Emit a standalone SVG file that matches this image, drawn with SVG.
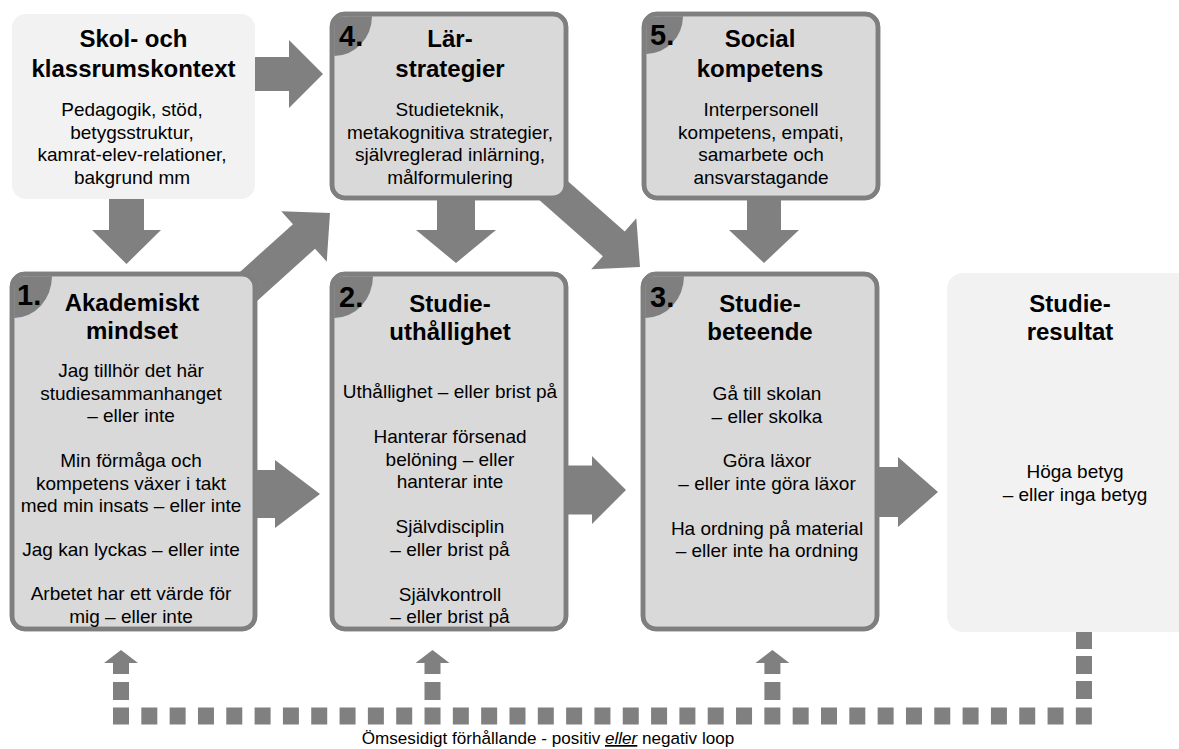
<svg xmlns="http://www.w3.org/2000/svg" width="1179" height="749" viewBox="0 0 1179 749">
<style>
.arrow{fill:#808080}
.box{fill:#d9d9d9;stroke:#7f7f7f;stroke-width:4.5}
.lbox{fill:#f2f2f2}
.tab{fill:#7f7f7f}
.dash{fill:none;stroke:#808080}
text{font-family:"Liberation Sans",Arial,sans-serif;fill:#000;text-anchor:middle}
.t{font-size:24px;font-weight:bold}
.b{font-size:19px}
.n{font-size:29px;font-weight:bold;text-anchor:start}
.loop{font-size:17.1px}
</style>
<rect width="1179" height="749" fill="#ffffff"/>
<g id="connectors">
<polygon class="arrow" points="255,57 289,57 289,40 323,74 289,108 289,91 255,91"/>
<polygon class="arrow" points="109,198 144,198 144,230 161,230 126.5,264 92,230 109,230"/>
<polygon class="arrow" transform="translate(330,213) rotate(-42)" points="0,0 -35,-34 -35,-16.5 -140,-16.5 -140,16.5 -35,16.5 -35,34"/>
<polygon class="arrow" points="437,198 475,198 475,230 496,230 456,263 416,230 437,230"/>
<polygon class="arrow" transform="translate(640,267) rotate(41.5)" points="0,0 -35,-34 -35,-16.5 -135,-16.5 -135,16.5 -35,16.5 -35,34"/>
<polygon class="arrow" points="747,198 781,198 781,230 799,230 764,263 729,230 747,230"/>
<polygon class="arrow" points="250,470 275,470 275,460 320,494 275,528 275,518 250,518"/>
<polygon class="arrow" points="562,465.5 592,465.5 592,456 626,490 592,524 592,514.5 562,514.5"/>
<polygon class="arrow" points="872,467 898,467 898,457 938,492 898,527 898,517 872,517"/>
<path class="dash" d="M113,716 H1092" stroke-width="17" stroke-dasharray="16 12.32"/>
<path class="dash" d="M1084,699 V631" stroke-width="16" stroke-dasharray="18 7"/>
<rect class="arrow" x="113" y="682" width="16" height="18"/>
<polygon class="arrow" points="113,674 129,674 129,663 138,663 121,650 104,663 113,663"/>
<rect class="arrow" x="424.5" y="682" width="16" height="18"/>
<polygon class="arrow" points="424.5,674 440.5,674 440.5,663 449.5,663 432.5,650 415.5,663 424.5,663"/>
<rect class="arrow" x="764.4" y="682" width="16" height="18"/>
<polygon class="arrow" points="764.4,674 780.4,674 780.4,663 789.4,663 772.4,650 755.4,663 764.4,663"/>
</g>
<g id="skol">
<rect class="lbox" x="12" y="14" width="243" height="185" rx="14"/>
<text class="t" x="133.5" y="47">Skol- och</text>
<text class="t" x="133.5" y="76.5">klassrumskontext</text>
<text class="b" x="132"><tspan x="132" y="116">Pedagogik, stöd,</tspan><tspan x="132" y="138.5">betygsstruktur,</tspan><tspan x="132" y="161">kamrat-elev-relationer,</tspan><tspan x="132" y="183.5">bakgrund mm</tspan></text>
</g>
<g id="larstrategier">
<rect class="box" x="332" y="14" width="234" height="184" rx="13"/>
<path class="tab" d="M334.2,56 V27 Q334.2,16.2 347,16.2 H372 A38 40 0 0 1 334.2,56 Z"/>
<rect x="332" y="14" width="234" height="184" rx="13" fill="none" stroke="#7f7f7f" stroke-width="4.5"/>
<text class="n" x="339" y="46">4.</text>
<text class="t" x="450" y="47">Lär-</text>
<text class="t" x="450" y="76.5">strategier</text>
<text class="b" x="450"><tspan x="450" y="116">Studieteknik,</tspan><tspan x="450" y="138.5">metakognitiva strategier,</tspan><tspan x="450" y="161">självreglerad inlärning,</tspan><tspan x="450" y="183.5">målformulering</tspan></text>
</g>
<g id="social">
<rect class="box" x="644" y="14" width="234" height="184" rx="13"/>
<path class="tab" d="M646.2,54 V27 Q646.2,16.2 659,16.2 H683 A37 38 0 0 1 646.2,54 Z"/>
<rect x="644" y="14" width="234" height="184" rx="13" fill="none" stroke="#7f7f7f" stroke-width="4.5"/>
<text class="n" x="650" y="45">5.</text>
<text class="t" x="760" y="47">Social</text>
<text class="t" x="760" y="76.5">kompetens</text>
<text class="b" x="761"><tspan x="761" y="116">Interpersonell</tspan><tspan x="761" y="138.5">kompetens, empati,</tspan><tspan x="761" y="161">samarbete och</tspan><tspan x="761" y="183.5">ansvarstagande</tspan></text>
</g>
<g id="mindset">
<rect class="box" x="12" y="274" width="243" height="355" rx="13"/>
<path class="tab" d="M14.2,318 V287 Q14.2,276.2 27,276.2 H52 A38 42 0 0 1 14.2,318 Z"/>
<rect x="12" y="274" width="243" height="355" rx="13" fill="none" stroke="#7f7f7f" stroke-width="4.5"/>
<text class="n" x="17" y="305">1.</text>
<text class="t" x="132" y="310.5">Akademiskt</text>
<text class="t" x="132" y="339">mindset</text>
<text class="b" x="131"><tspan x="131" y="377">Jag tillhör det här</tspan><tspan x="131" y="399.5">studiesammanhanget</tspan><tspan x="131" y="422">– eller inte</tspan><tspan x="131" y="467">Min förmåga och</tspan><tspan x="131" y="489.5">kompetens växer i takt</tspan><tspan x="131" y="512">med min insats – eller inte</tspan><tspan x="131" y="556">Jag kan lyckas – eller inte</tspan><tspan x="131" y="600">Arbetet har ett värde för</tspan><tspan x="131" y="622.5">mig – eller inte</tspan></text>
</g>
<g id="uthallighet">
<rect class="box" x="332" y="274" width="234" height="355" rx="13"/>
<path class="tab" d="M334.2,318 V287 Q334.2,276.2 347,276.2 H373 A39 42 0 0 1 334.2,318 Z"/>
<rect x="332" y="274" width="234" height="355" rx="13" fill="none" stroke="#7f7f7f" stroke-width="4.5"/>
<text class="n" x="339" y="307">2.</text>
<text class="t" x="450" y="312">Studie-</text>
<text class="t" x="450" y="340">uthållighet</text>
<text class="b" x="450"><tspan x="450" y="398">Uthållighet – eller brist på</tspan><tspan x="450" y="443">Hanterar försenad</tspan><tspan x="450" y="465.5">belöning – eller</tspan><tspan x="450" y="488">hanterar inte</tspan><tspan x="450" y="533">Självdisciplin</tspan><tspan x="450" y="555.5">– eller brist på</tspan><tspan x="450" y="600.5">Självkontroll</tspan><tspan x="450" y="623">– eller brist på</tspan></text>
</g>
<g id="beteende">
<rect class="box" x="643" y="274" width="234" height="355" rx="13"/>
<path class="tab" d="M645.2,318 V287 Q645.2,276.2 658,276.2 H684 A39 42 0 0 1 645.2,318 Z"/>
<rect x="643" y="274" width="234" height="355" rx="13" fill="none" stroke="#7f7f7f" stroke-width="4.5"/>
<text class="n" x="650" y="307">3.</text>
<text class="t" x="760" y="312">Studie-</text>
<text class="t" x="760" y="340">beteende</text>
<text class="b" x="767"><tspan x="767" y="400">Gå till skolan</tspan><tspan x="767" y="422.5">– eller skolka</tspan><tspan x="767" y="467">Göra läxor</tspan><tspan x="767" y="489.5">– eller inte göra läxor</tspan><tspan x="767" y="534.5">Ha ordning på material</tspan><tspan x="767" y="557">– eller inte ha ordning</tspan></text>
</g>
<g id="resultat">
<rect class="lbox" x="947" y="273" width="262" height="359" rx="16"/>
<text class="t" x="1070" y="312">Studie-</text>
<text class="t" x="1070" y="340">resultat</text>
<text class="b" x="1075"><tspan x="1075" y="478">Höga betyg</tspan><tspan x="1075" y="500.5">– eller inga betyg</tspan></text>
</g>
<text class="loop" x="548" y="744">Ömsesidigt förhållande - positiv <tspan font-style="italic" text-decoration="underline">eller</tspan> negativ loop</text>
</svg>
